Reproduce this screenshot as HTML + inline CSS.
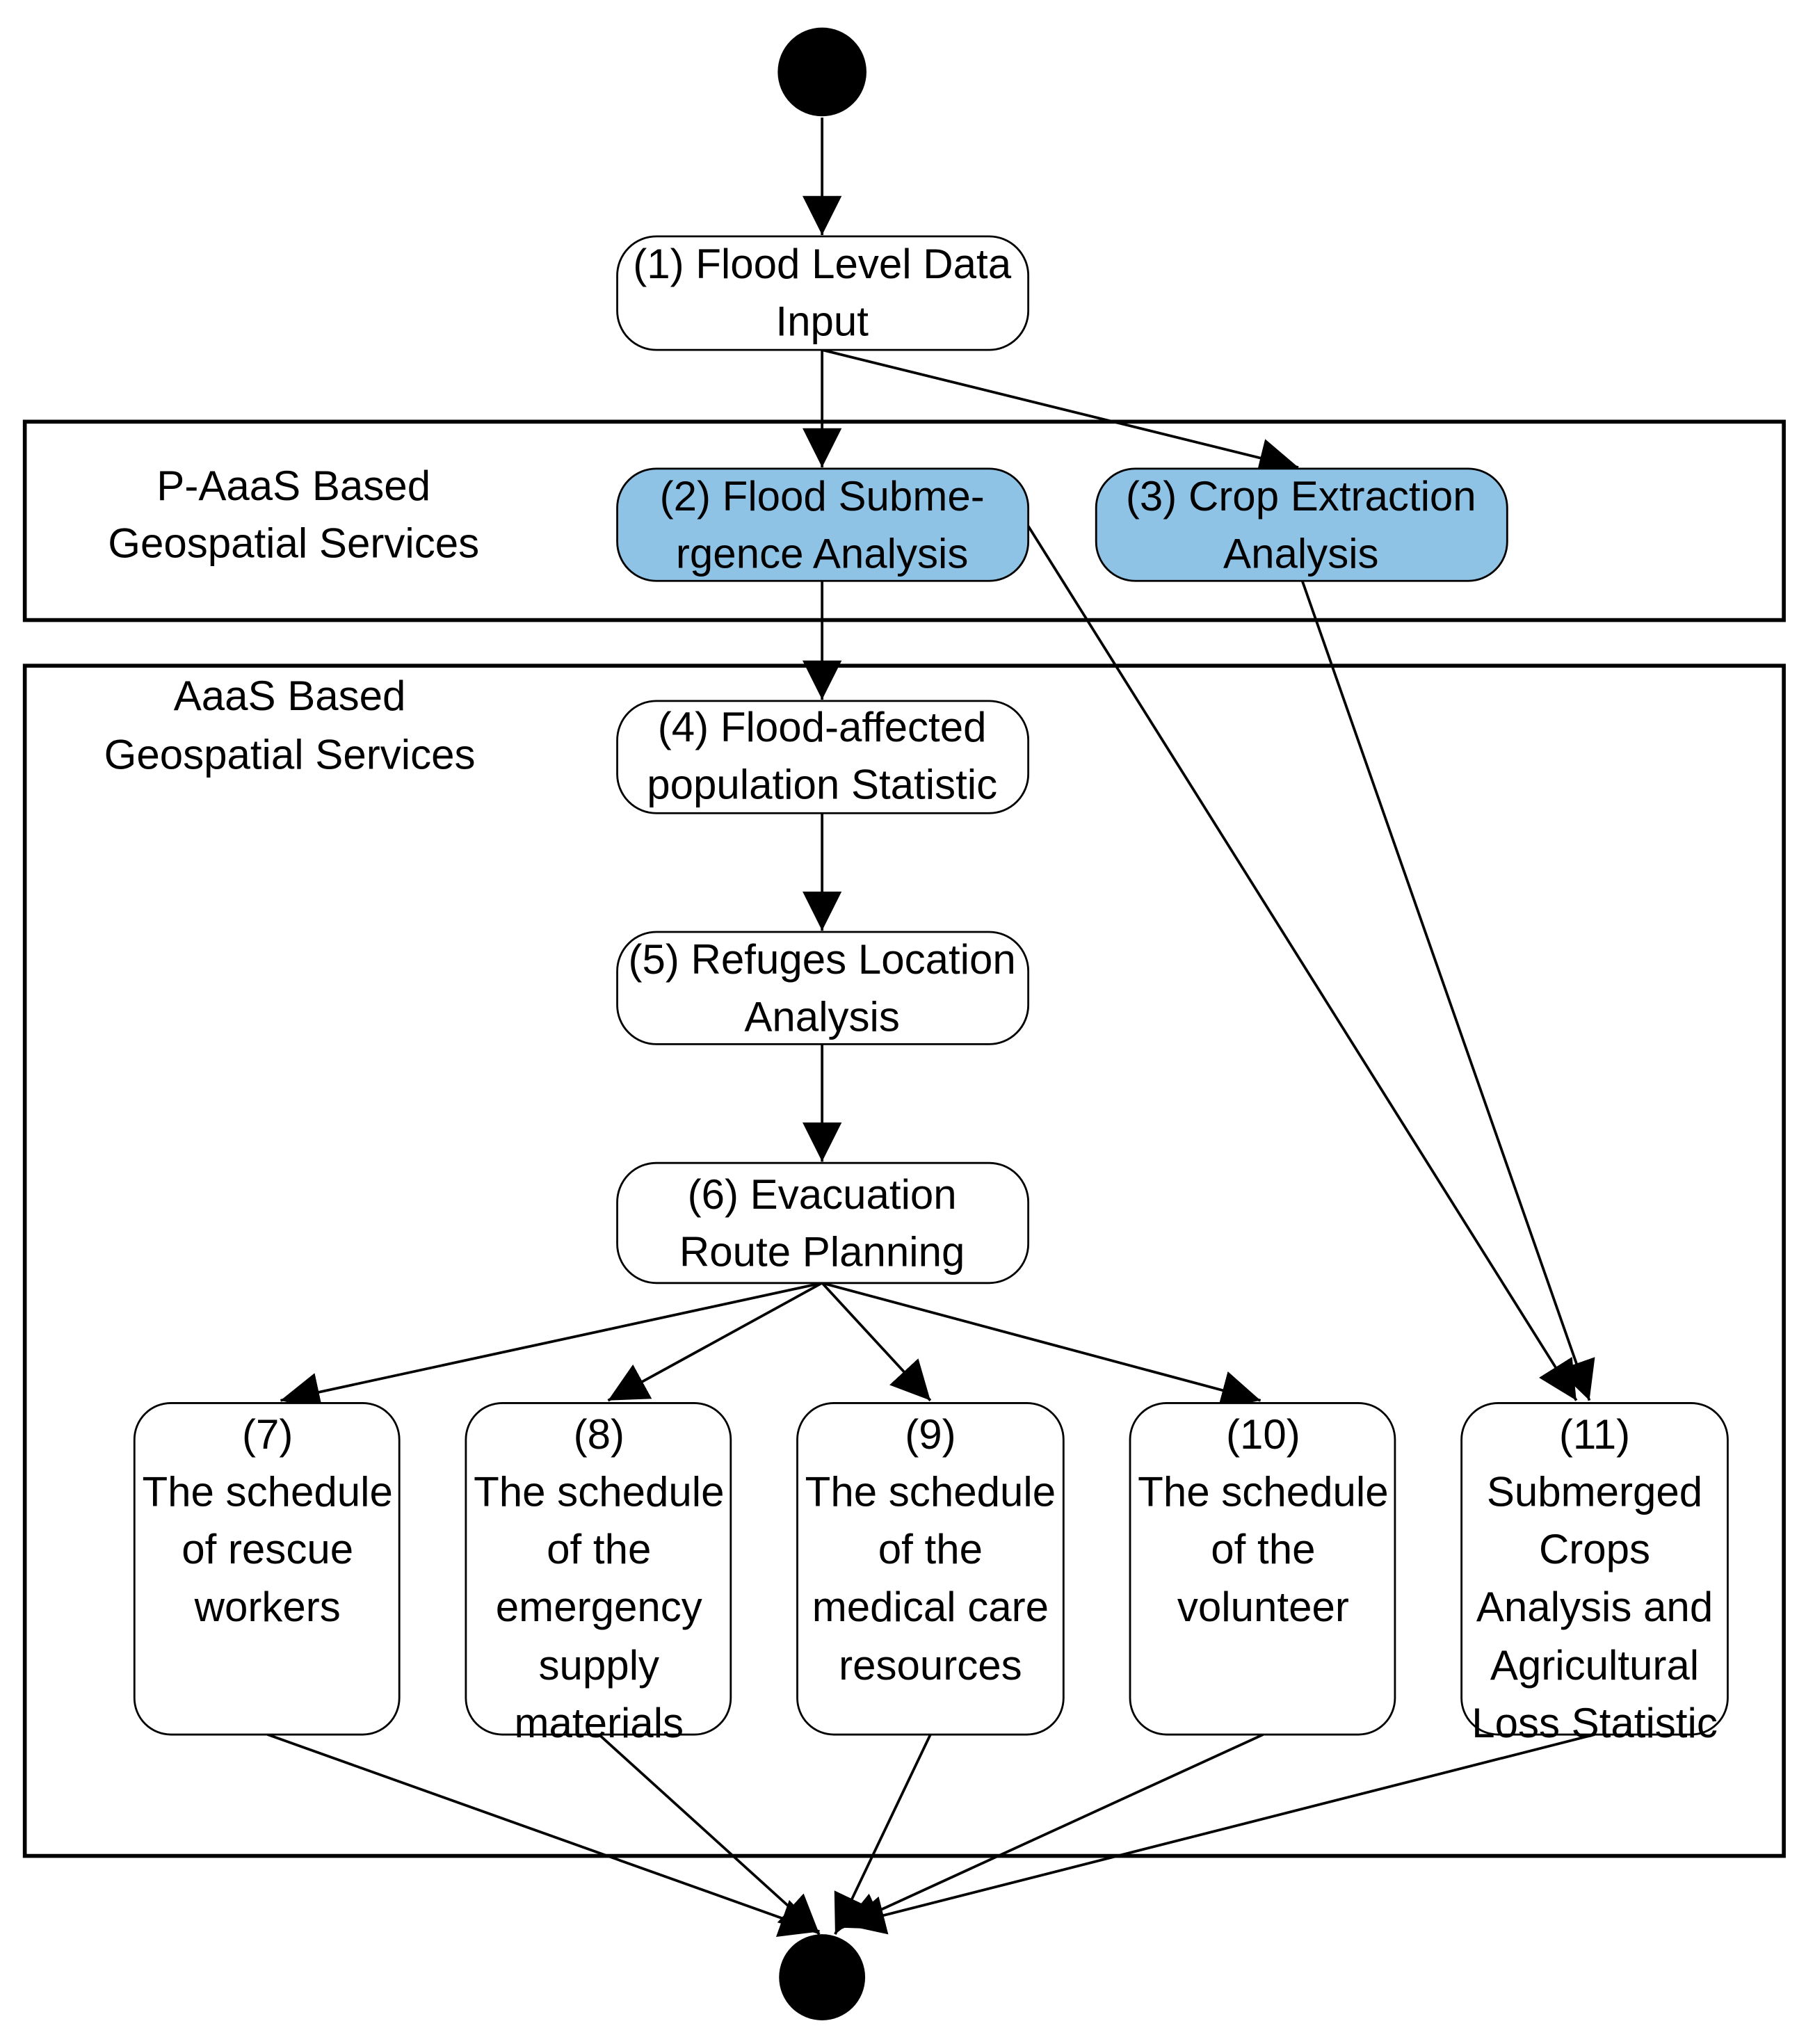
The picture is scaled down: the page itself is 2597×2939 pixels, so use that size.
<!DOCTYPE html>
<html><head><meta charset="utf-8"><style>
html,body{margin:0;padding:0;background:#fff;}
svg{display:block;}
text{font-family:"Liberation Sans","DejaVu Sans",sans-serif;font-size:32px;fill:#000;text-anchor:middle;}
</style></head><body>
<svg width="2597" height="2939" viewBox="0 0 1384 1566" xmlns="http://www.w3.org/2000/svg">
<defs>
<marker id="a" markerUnits="userSpaceOnUse" markerWidth="32" markerHeight="32" refX="30" refY="15" orient="auto">
<path d="M0,0 L30,15 L0,30 Z" fill="#000"/>
</marker>
</defs>
<rect width="1384" height="1566" fill="#fff"/>
<rect x="19" y="323" width="1348" height="152" fill="none" stroke="#000" stroke-width="3"/>
<rect x="19" y="510" width="1348" height="912" fill="none" stroke="#000" stroke-width="3"/>
<text x="225" y="383">P-AaaS Based</text>
<text x="225" y="427">Geospatial Services</text>
<text x="222" y="544">AaaS Based</text>
<text x="222" y="589">Geospatial Services</text>
<circle cx="630" cy="55" r="34" fill="#000"/>
<circle cx="630" cy="1515" r="33" fill="#000"/>
<g stroke="#000" stroke-width="2" fill="none" marker-end="url(#a)">
<line x1="630" y1="90" x2="630" y2="180"/>
<line x1="630" y1="268" x2="630" y2="358"/>
<line x1="630" y1="268" x2="995" y2="358"/>
<line x1="630" y1="445" x2="630" y2="536"/>
<line x1="630" y1="623" x2="630" y2="713"/>
<line x1="630" y1="800" x2="630" y2="890"/>
<line x1="630" y1="983" x2="215" y2="1073"/>
<line x1="630" y1="983" x2="466" y2="1073"/>
<line x1="630" y1="983" x2="713" y2="1073"/>
<line x1="630" y1="983" x2="966" y2="1073"/>
<line x1="788" y1="403" x2="1208" y2="1073"/>
<line x1="998" y1="445" x2="1218" y2="1073"/>
<line x1="205" y1="1329" x2="628" y2="1480"/>
<line x1="459" y1="1329" x2="628" y2="1482"/>
<line x1="713" y1="1329" x2="640" y2="1482"/>
<line x1="968" y1="1329" x2="645" y2="1477"/>
<line x1="1222" y1="1329" x2="648" y2="1475"/>
</g>
<g stroke="#000" stroke-width="1.5">
<rect x="473" y="181" width="315" height="87" rx="30" fill="#fff"/>
<rect x="473" y="359" width="315" height="86" rx="30" fill="#8fc3e6"/>
<rect x="840" y="359" width="315" height="86" rx="30" fill="#8fc3e6"/>
<rect x="473" y="537" width="315" height="86" rx="30" fill="#fff"/>
<rect x="473" y="714" width="315" height="86" rx="30" fill="#fff"/>
<rect x="473" y="891" width="315" height="92" rx="30" fill="#fff"/>
<rect x="103" y="1075" width="203" height="254" rx="28" fill="#fff"/>
<rect x="357" y="1075" width="203" height="254" rx="28" fill="#fff"/>
<rect x="611" y="1075" width="204" height="254" rx="28" fill="#fff"/>
<rect x="866" y="1075" width="203" height="254" rx="28" fill="#fff"/>
<rect x="1120" y="1075" width="204" height="254" rx="28" fill="#fff"/>
</g>
<text x="630" y="213">(1) Flood Level Data</text>
<text x="630" y="257">Input</text>
<text x="630" y="391">(2) Flood Subme-</text>
<text x="630" y="435">rgence Analysis</text>
<text x="997" y="391">(3) Crop Extraction</text>
<text x="997" y="435">Analysis</text>
<text x="630" y="568">(4) Flood-affected</text>
<text x="630" y="612">population Statistic</text>
<text x="630" y="746">(5) Refuges Location</text>
<text x="630" y="790">Analysis</text>
<text x="630" y="926">(6) Evacuation</text>
<text x="630" y="970">Route Planning</text>
<g>
<text x="205" y="1110">(7)</text><text x="205" y="1154">The schedule</text><text x="205" y="1198">of rescue</text><text x="205" y="1242">workers</text>
<text x="459" y="1110">(8)</text><text x="459" y="1154">The schedule</text><text x="459" y="1198">of the</text><text x="459" y="1242">emergency</text><text x="459" y="1287">supply</text><text x="459" y="1331">materials</text>
<text x="713" y="1110">(9)</text><text x="713" y="1154">The schedule</text><text x="713" y="1198">of the</text><text x="713" y="1242">medical care</text><text x="713" y="1287">resources</text>
<text x="968" y="1110">(10)</text><text x="968" y="1154">The schedule</text><text x="968" y="1198">of the</text><text x="968" y="1242">volunteer</text>
<text x="1222" y="1110">(11)</text><text x="1222" y="1154">Submerged</text><text x="1222" y="1198">Crops</text><text x="1222" y="1242">Analysis and</text><text x="1222" y="1287">Agricultural</text><text x="1222" y="1331">Loss Statistic</text>
</g>
</svg>
</body></html>
